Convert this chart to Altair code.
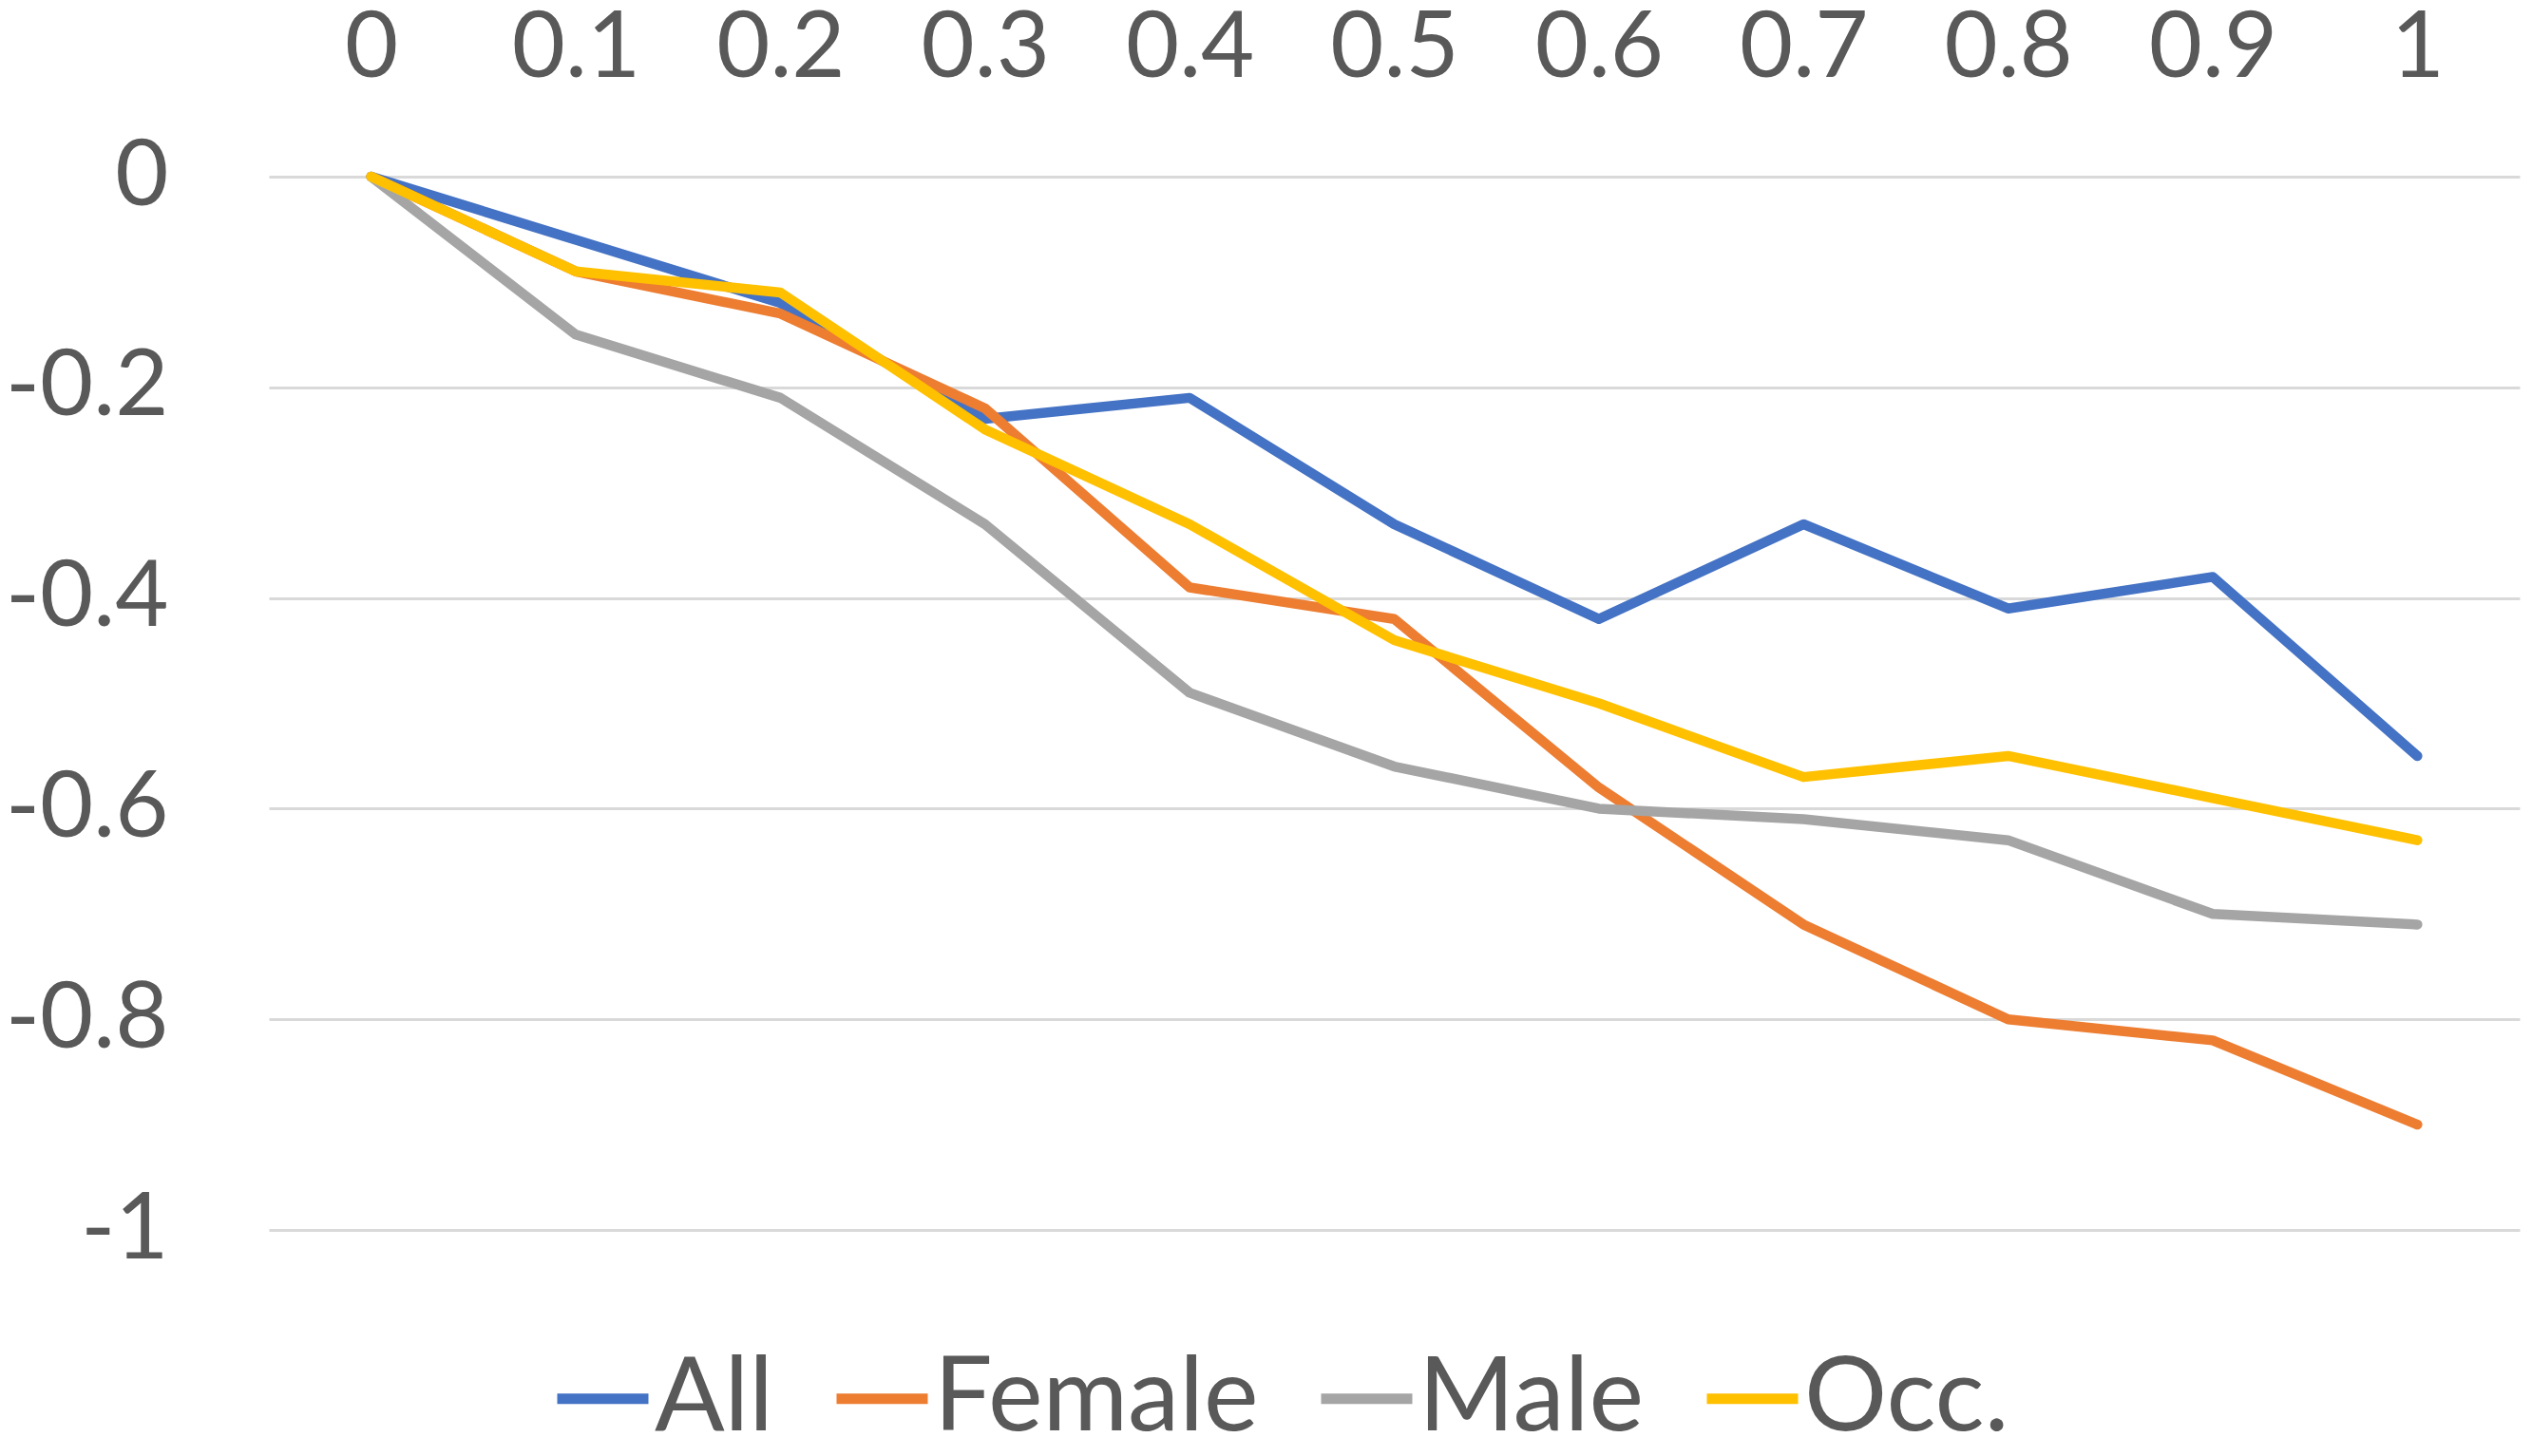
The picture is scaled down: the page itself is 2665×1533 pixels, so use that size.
import altair as alt
import pandas as pd

x_vals = [0, 0.1, 0.2, 0.3, 0.4, 0.5, 0.6, 0.7, 0.8, 0.9, 1]
series_names = ["All", "Female", "Male", "Occ."]
all_vals = [0, -0.06, -0.12, -0.23, -0.21, -0.33, -0.42, -0.33, -0.41, -0.38, -0.55]
female_vals = [0, -0.09, -0.13, -0.22, -0.39, -0.42, -0.58, -0.71, -0.80, -0.82, -0.90]
male_vals = [0, -0.15, -0.21, -0.33, -0.49, -0.56, -0.60, -0.61, -0.63, -0.70, -0.71]
occ_vals = [0, -0.09, -0.11, -0.24, -0.33, -0.44, -0.50, -0.57, -0.55, -0.59, -0.63]
colors = ["#4472C4", "#ED7D31", "#A5A5A5", "#FFC000"]
y_ticks = [0, -0.2, -0.4, -0.6, -0.8, -1]

rows = []
for name, vals in zip(series_names, [all_vals, female_vals, male_vals, occ_vals]):
    for i, (x, v) in enumerate(zip(x_vals, vals)):
        rows.append({"x": x, "value": v, "series": name, "order": i})
df = pd.DataFrame(rows)

FONT = "Lato"
TXT = "#595959"

chart = alt.Chart(df).mark_line(
    strokeWidth=10.5, strokeCap="round", strokeJoin="round"
).encode(
    x=alt.X("x:Q",
            scale=alt.Scale(domain=[-0.05, 1.05], nice=False, zero=False),
            axis=alt.Axis(orient="top", values=x_vals, labelExpr="'' + datum.value",
                          title=None, grid=False, domain=False, ticks=False, tickSize=0,
                          labelFont=FONT, labelFontSize=97, labelColor=TXT,
                          labelPadding=86, labelFlush=False, labelOverlap=False,
                          labelLimit=600)),
    y=alt.Y("value:Q",
            scale=alt.Scale(domain=[-1, 0], nice=False),
            axis=alt.Axis(values=y_ticks, labelExpr="'' + datum.value", title=None,
                          grid=True, gridColor="#D9D9D9", gridWidth=3,
                          domain=False, ticks=False, tickSize=0,
                          labelFont=FONT, labelFontSize=97, labelColor=TXT,
                          labelPadding=106, labelOverlap=False, labelLimit=600)),
    color=alt.Color("series:N",
                    scale=alt.Scale(domain=series_names, range=colors),
                    legend=alt.Legend(orient="none", legendX=297, legendY=1232,
                                      direction="horizontal", title=None,
                                      symbolType="stroke", symbolSize=9216,
                                      symbolStrokeWidth=11, labelOffset=0,
                                      labelFont=FONT, labelFontSize=109,
                                      labelColor=TXT, columnPadding=43,
                                      padding=0, labelLimit=1000)),
    order="order:Q",
).properties(
    width=2369,
    height=1109,
    background="white",
    autosize=alt.AutoSizeParams(type="none"),
    padding={"left": 275, "top": 178, "right": 5, "bottom": 230},
).configure_view(stroke=None)

chart.save("out.html", embed_options={"renderer": "svg", "actions": False})
